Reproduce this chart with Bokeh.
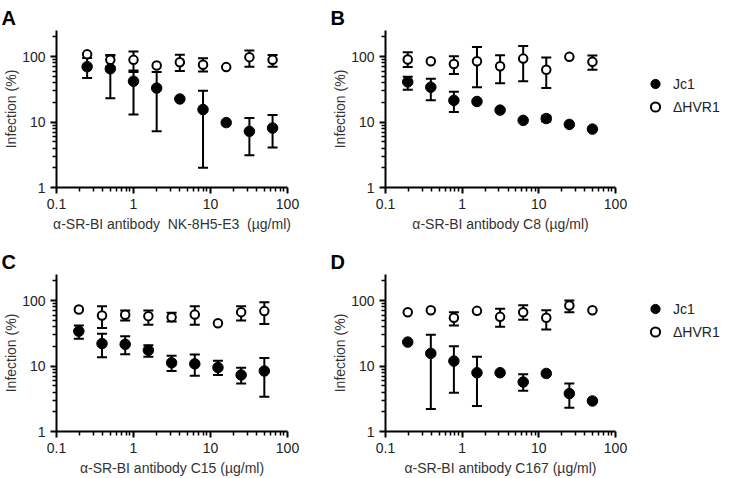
from bokeh.plotting import figure
from bokeh.models import (ColumnDataSource, Whisker, TeeHead, FixedTicker,
                          CustomJSTickFormatter, Legend, LegendItem, Range1d)
from bokeh.layouts import row, column
from bokeh.embed import file_html
from bokeh.resources import INLINE

FONT = "Liberation Sans"

# ---------------- data ----------------
dose_A = [0.25, 0.5, 1, 2, 4, 8, 16, 32, 64]
dose_BCD = [0.195, 0.39, 0.78, 1.56, 3.125, 6.25, 12.5, 25, 50]

jc1_A = [70, 65, 42, 33, 22.5, 15.5, 9.8, 7.2, 8.1]
jc1_A_lo = [47, 23, 13, 7.2, None, 2.0, None, 3.1, 4.1]
jc1_A_hi = [95, 103, 58, 58, None, 30, None, 11.5, 12.8]
hvr_A = [108, 89, 89, 73, 82, 75, 69, 98, 89]
hvr_A_lo = [None, 70, 61, None, 60, 59, None, 70, 70]
hvr_A_hi = [None, 106, 119, None, 107, 94, None, 124, 106]

jc1_B = [41, 34, 21.4, 20.6, 15.2, 10.6, 11.3, 9.2, 7.8]
jc1_B_lo = [31, 21.6, 14.2, None, None, None, 10.2, None, None]
jc1_B_hi = [49, 46, 29, None, None, None, 12.5, None, None]
hvr_B = [90, 85, 77, 85, 71, 93, 63, 99, 83]
hvr_B_lo = [69, None, 54, 34, 39, 42, 33, None, 63]
hvr_B_hi = [116, None, 101, 140, 105, 145, 97, None, 104]

jc1_C = [34, 22, 21.5, 17.4, 11.2, 10.8, 9.5, 7.3, 8.4]
jc1_C_lo = [26, 13.6, 15.1, 13.8, 8.4, 7.1, 7.3, 5.4, 3.4]
jc1_C_hi = [41.7, 31, 28.4, 20.7, 14.3, 15, 12, 9.4, 13.3]
hvr_C = [73, 59, 60.6, 57.8, 55.8, 61, 45, 66.5, 69]
hvr_C_lo = [None, 38, 49.7, 42.7, 48, 42.7, None, 49.7, 44]
hvr_C_hi = [None, 82, 70.5, 70.5, 65, 82, None, 82, 94]

jc1_D = [23.2, 15.6, 11.9, 7.9, 7.9, 5.7, 7.7, 3.8, 2.93]
jc1_D_lo = [None, 2.2, 3.9, 2.46, None, 4.2, None, 2.3, None]
jc1_D_hi = [None, 30, 20, 13.9, None, 7.5, None, 5.4, None]
hvr_D = [66.4, 71.3, 54.5, 69.6, 56.4, 66.4, 54.5, 84, 71.3]
hvr_D_lo = [None, None, 41.6, None, 39.7, 51, 36, 66.4, None]
hvr_D_hi = [None, None, 66.4, None, 74.7, 85, 71.3, 100, None]

x_ticks = [0.1, 1, 10, 100]
y_ticks = [1, 10, 100]
series_names = ["Jc1", "\u0394HVR1"]

xlabel_A = "\u03b1-SR-BI antibody\u00a0 NK-8H5-E3\u00a0 (\u00b5g/ml)"
xlabel_B = "\u03b1-SR-BI antibody C8 (\u00b5g/ml)"
xlabel_C = "\u03b1-SR-BI antibody C15 (\u00b5g/ml)"
xlabel_D = "\u03b1-SR-BI antibody C167 (\u00b5g/ml)"
ylabel = "Infection (%)"

x_minor = [m * 10.0 ** e for e in range(-1, 2) for m in range(2, 10)]
y_minor = [m * 10.0 ** e for e in range(0, 3) for m in range(2, 10)]

FILLED = dict(marker="circle", size=10.5, fill_color="black", line_color="black", line_width=1)
OPEN = dict(marker="circle", size=8.5, fill_color="white", line_color="black", line_width=2)


def err_source(x, lo, hi):
    xs, ls, us = [], [], []
    for xi, li, ui in zip(x, lo, hi):
        if li is not None and ui is not None:
            xs.append(xi); ls.append(li); us.append(ui)
    return ColumnDataSource(dict(x=xs, lower=ls, upper=us))


def make_panel(letter, dose, jc1, jc1_lo, jc1_hi, hvr, hvr_lo, hvr_hi, xlabel,
               width, height, bl, br, bt, bb):
    p = figure(width=width, height=height, x_axis_type="log", y_axis_type="log",
               x_range=Range1d(0.1, 100), y_range=Range1d(1, 250),
               output_backend="svg", toolbar_location=None,
               min_border_left=bl, min_border_right=br,
               min_border_top=bt, min_border_bottom=bb)
    p.outline_line_color = None
    p.xgrid.visible = False
    p.ygrid.visible = False
    p.background_fill_color = "white"
    p.border_fill_color = "white"

    p.title.text = letter
    p.title.align = "left"
    p.title.offset = -55
    p.title.standoff = 3
    p.title.text_font = FONT
    p.title.text_font_size = "20px"
    p.title.text_font_style = "bold"
    p.title.text_color = "black"

    for ax in (p.xaxis[0], p.yaxis[0]):
        ax.axis_line_width = 2
        ax.axis_line_color = "black"
        ax.major_tick_line_width = 2
        ax.minor_tick_line_width = 1.5
        ax.major_tick_line_color = "black"
        ax.minor_tick_line_color = "black"
        ax.major_tick_in = 0
        ax.major_tick_out = 6
        ax.minor_tick_in = 0
        ax.minor_tick_out = 4
        ax.major_label_text_font = FONT
        ax.major_label_text_font_size = "14px"
        ax.major_label_text_color = "#222222"
        ax.axis_label_text_font = FONT
        ax.axis_label_text_font_size = "14px"
        ax.axis_label_text_font_style = "normal"
        ax.axis_label_text_color = "#333333"
        ax.formatter = CustomJSTickFormatter(code="return tick.toString();")
    p.xaxis[0].ticker = FixedTicker(ticks=x_ticks, minor_ticks=x_minor)
    p.yaxis[0].ticker = FixedTicker(ticks=y_ticks, minor_ticks=y_minor)
    p.xaxis[0].axis_label = xlabel
    p.yaxis[0].axis_label = ylabel
    p.xaxis[0].major_label_standoff = 5
    p.xaxis[0].axis_label_standoff = 4
    p.yaxis[0].major_label_standoff = 5
    p.yaxis[0].axis_label_standoff = 0

    for lo, hi in ((jc1_lo, jc1_hi), (hvr_lo, hvr_hi)):
        src = err_source(dose, lo, hi)
        w = Whisker(base="x", lower="lower", upper="upper", source=src,
                    dimension="height", line_width=2, line_color="black",
                    upper_head=TeeHead(size=10, line_width=2, line_color="black"),
                    lower_head=TeeHead(size=10, line_width=2, line_color="black"),
                    level="underlay")
        p.add_layout(w)

    p.scatter("x", "y", source=ColumnDataSource(dict(x=dose, y=jc1)), **FILLED)
    p.scatter("x", "y", source=ColumnDataSource(dict(x=dose, y=hvr)), **OPEN)
    return p


def make_legend(width, height, bt, bb, loc, dose, jc1, hvr):
    # separate key panel; its series renderers lie outside its visible range,
    # only the legend swatches are shown
    q = figure(width=width, height=height, output_backend="svg", toolbar_location=None,
               x_range=Range1d(-20, -10), y_range=Range1d(-20, -10),
               x_axis_location=None, y_axis_location=None,
               min_border_left=0, min_border_right=0,
               min_border_top=bt, min_border_bottom=bb)
    q.outline_line_color = None
    q.xgrid.visible = False
    q.ygrid.visible = False
    r1 = q.scatter(x=dose, y=jc1, **FILLED)
    r2 = q.scatter(x=dose, y=hvr, **OPEN)
    leg = Legend(items=[LegendItem(label=series_names[0], renderers=[r1]),
                        LegendItem(label=series_names[1], renderers=[r2])],
                 location=loc, margin=0, padding=0, spacing=0,
                 glyph_width=24, glyph_height=23, label_height=23,
                 label_standoff=6, border_line_color=None,
                 background_fill_alpha=0,
                 label_text_font=FONT, label_text_font_size="14px",
                 label_text_color="#222222")
    q.add_layout(leg, "center")
    return q


pA = make_panel("A", dose_A, jc1_A, jc1_A_lo, jc1_A_hi, hvr_A, hvr_A_lo, hvr_A_hi,
                xlabel_A, 329, 244, 49, 42, 30, 57)
pB = make_panel("B", dose_BCD, jc1_B, jc1_B_lo, jc1_B_hi, hvr_B, hvr_B_lo, hvr_B_hi,
                xlabel_B, 306, 244, 49, 20, 30, 57)
lB = make_legend(95, 244, 30, 57, (8, 69), dose_BCD, jc1_B, hvr_B)
pC = make_panel("C", dose_BCD, jc1_C, jc1_C_lo, jc1_C_hi, hvr_C, hvr_C_lo, hvr_C_hi,
                xlabel_C, 329, 234, 49, 42, 30, 47)
pD = make_panel("D", dose_BCD, jc1_D, jc1_D_lo, jc1_D_hi, hvr_D, hvr_D_lo, hvr_D_hi,
                xlabel_D, 306, 234, 49, 20, 30, 47)
lD = make_legend(95, 234, 30, 47, (8, 88), dose_BCD, jc1_D, hvr_D)

lay = column(row(pA, pB, lB), row(pC, pD, lD))
open("out.html", "w").write(file_html(lay, INLINE))
